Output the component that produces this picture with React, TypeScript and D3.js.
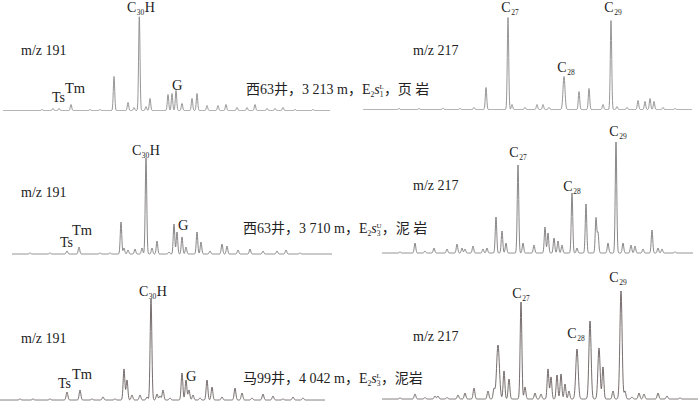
import { useEffect, useRef } from "react";
import * as d3 from "d3";

// peak = [retention (scan units), abundance, width?]
type Peak = [number, number, number?];

// 西63井 3 213 m
const x63a_m191: Peak[] = [
  [42, 1], [53, 2], [59, 2], [71, 6], [90, 1], [100, 1], [114, 34], [128, 8], [134, 3],
  [139.3, 94], [146, 4], [150, 12], [168, 16], [172, 17], [176, 20], [182, 7], [192, 12],
  [197, 17], [207, 5], [218, 5], [226, 6], [237, 3], [247, 3], [255, 6], [267, 2],
  [275, 2], [283, 3], [295, 1], [313, 1],
];
const x63a_m217: Peak[] = [
  [49, 1], [69, 1], [93, 1.5], [110, 1], [124, 2], [136, 22], [158, 92], [162, 5],
  [175, 2], [187, 5], [193, 5], [199, 2], [214, 33, 1], [229, 18], [239, 21], [253, 5],
  [261, 89], [267, 3], [277, 2], [288, 9], [295, 8], [300, 11], [304, 8], [313, 2], [325, 1],
];

// 西63井 3 710 m
const x63b_m191: Peak[] = [
  [30, 1], [50, 1], [67, 3], [79, 7], [100, 1], [110, 1], [121, 32], [124, 6], [128, 4],
  [135, 5], [142, 6], [146, 96], [152, 6], [157, 13], [169, 2], [174, 30], [177, 22],
  [182, 17], [186, 7], [197, 22], [201, 12], [210, 3], [222, 10], [227, 8], [238, 4],
  [250, 5], [263, 3], [277, 3], [286, 4], [300, 1],
];
const x63b_m217: Peak[] = [
  [50, 1], [65, 10], [75, 2], [84, 5], [97, 4], [107, 9], [112, 5], [115, 4], [123, 7],
  [133, 4], [137, 5], [146, 36], [152, 22], [156, 10], [168, 88], [173, 10], [184, 8],
  [195, 26], [198, 20], [204, 15], [208, 12], [212, 8], [222, 60], [227, 5], [236, 49],
  [246, 35], [248, 20], [258, 10], [266, 111], [273, 10], [281, 8], [285, 7], [293, 4],
  [302, 23], [308, 5], [312, 4], [325, 1],
];

// 马99井 4 042 m
const m99_m191: Peak[] = [
  [20, 1], [33, 1], [50, 1], [67, 8], [80, 10], [92, 1], [103, 3], [115, 1], [124, 31],
  [127, 20], [132, 5], [140, 5], [147, 3], [151, 101], [157, 6], [160, 4], [163, 10],
  [170, 2], [182, 27], [186, 20], [189, 10], [193, 5], [200, 2], [207, 20], [212, 13],
  [222, 3], [235, 12], [242, 7], [252, 2], [263, 6], [273, 4], [283, 1], [293, 3], [303, 2],
];
const m99_m217: Peak[] = [
  [50, 1], [65, 5], [75, 1.5], [85, 3], [88, 3], [97, 1.5], [108, 4], [115, 6], [124, 11],
  [138, 8], [144, 10], [148, 54, 1.4], [154, 28], [159, 20], [171, 97], [175, 12],
  [185, 6], [191, 5], [198, 30], [201, 22], [207, 24], [211, 25], [215, 15], [219, 8],
  [227, 50, 1.2], [240, 78, 1.1], [249, 51, 1.1], [253, 32], [263, 8], [271, 108, 1.1],
  [275, 8], [282, 2], [289, 6], [294, 5], [308, 6], [317, 3], [330, 1],
];

const sampleLabels = [
  { well: "西63井，3 213 m，E", sub: "1", sup: "L", rock: "，页 岩" },
  { well: "西63井，3 710 m，E", sub: "3", sup: "U", rock: "，泥 岩" },
  { well: "马99井，4 042 m，E", sub: "3", sup: "L", rock: "，泥岩" },
];

const serif = "'Liberation Serif', 'Times New Roman', 'Noto Sans CJK SC', serif";

export default function App() {
  const svgRef = useRef<SVGSVGElement | null>(null);

  useEffect(() => {
    if (!svgRef.current) return;
    const W = 700;
    const H = 402;
    const svg = d3.select(svgRef.current);
    svg.selectAll("*").remove();
    svg.attr("width", W).attr("height", H).attr("viewBox", [0, 0, W, H]);

    svg.append("rect").attr("width", W).attr("height", H).attr("fill", "#fff");

    // one row per sample: left m/z 191, right m/z 217
    const rows = [
      { left: x63a_m191, right: x63a_m217, baseL: 110.5, baseR: 109.5, domL: [3, 330], domR: [13, 342], sigma: 0.7, stroke: "#8a8a8a" },
      { left: x63b_m191, right: x63b_m217, baseL: 254, baseR: 253, domL: [12, 332], domR: [32, 343], sigma: 0.75, stroke: "#7c7878" },
      { left: m99_m191, right: m99_m217, baseL: 400, baseR: 399, domL: [0, 325], domR: [32, 348], sigma: 0.85, stroke: "#665c5c" },
    ];

    const drawTrace = (peaks: Peak[], originX: number, base: number, dom: number[], sigma: number, stroke: string) => {
      const x = d3.scaleLinear().domain([0, 350]).range([originX, originX + 350]);
      const y = d3.scaleLinear().domain([0, 100]).range([base, base - 100]);
      const pts: [number, number][] = d3.range(dom[0], dom[1] + 0.01, 0.25).map((t) => {
        let v = 0;
        for (const [p, h, w] of peaks) {
          const s = w ?? sigma;
          const d = t - p;
          if (Math.abs(d) < 6 * s) v += h * Math.exp(-(d * d) / (2 * s * s));
        }
        return [t, v];
      });
      const line = d3.line<[number, number]>().x((d) => x(d[0])).y((d) => y(d[1]));
      svg.append("path").attr("d", line(pts)).attr("fill", "none")
        .attr("stroke", stroke).attr("stroke-width", 0.9).attr("stroke-linejoin", "round");
    };

    rows.forEach((r) => {
      drawTrace(r.left, 0, r.baseL, r.domL, r.sigma, r.stroke);
      drawTrace(r.right, 350, r.baseR, r.domR, r.sigma, r.stroke);
    });

    const txt = (x: number, y: number, s: string, size = 14, anchor = "start") =>
      svg.append("text").attr("x", x).attr("y", y).attr("font-family", serif)
        .attr("font-size", size).attr("fill", "#222").attr("text-anchor", anchor).text(s);

    // C + subscript (+ optional H)
    const chem = (cx: number, y: number, sub: string, tail = "") => {
      const t = svg.append("text").attr("x", cx).attr("y", y).attr("font-family", serif)
        .attr("font-size", 14).attr("fill", "#222").attr("text-anchor", "middle");
      t.append("tspan").text("C");
      t.append("tspan").attr("font-size", 7.5).attr("dx", 0.5).attr("dy", 2.5).text(sub);
      if (tail) t.append("tspan").attr("dx", 0.5).attr("dy", -2.5).text(tail);
    };

    const sample = (x: number, y: number, lab: typeof sampleLabels[number]) => {
      const t = svg.append("text").attr("x", x).attr("y", y).attr("font-family", serif)
        .attr("font-size", 14).attr("fill", "#222");
      t.append("tspan").text(lab.well);
      t.append("tspan").attr("font-size", 7.5).attr("dy", 2.5).text("2");
      t.append("tspan").attr("font-style", "italic").attr("dy", -2.5).text("s");
      t.append("tspan").attr("font-size", 7.5).attr("dy", 2.5).text(lab.sub);
      t.append("tspan").attr("font-size", 7).attr("dx", -3.8).attr("dy", -8).text(lab.sup);
      t.append("tspan").attr("dy", 5.5).text(lab.rock);
    };

    const mzY = [[55, 55], [197, 190], [343, 341]];
    const c30 = [[141, 12], [146, 155], [153, 296]];
    const tsTm = [[52, 102, 65, 93], [60, 247, 72, 235], [58, 388, 72, 379]];
    const gPos = [[172, 90], [178, 230], [186, 381]];
    const sPos = [[246, 94], [243, 233], [243, 383]];
    const steranes = [
      [[510, 12], [566, 72], [613, 12]],
      [[518, 157], [572, 191], [618, 136]],
      [[521, 298], [576, 338], [618, 282]],
    ];

    for (let i = 0; i < 3; i++) {
      txt(21, mzY[i][0], "m/z 191");
      txt(413, mzY[i][1], "m/z 217");
      chem(c30[i][0], c30[i][1], "30", "H");
      txt(tsTm[i][0], tsTm[i][1], "Ts", 14);
      txt(tsTm[i][2], tsTm[i][3], "Tm", 14.5);
      txt(gPos[i][0], gPos[i][1], "G", 14.5);
      sample(sPos[i][0], sPos[i][1], sampleLabels[i]);
      ["27", "28", "29"].forEach((c, j) => chem(steranes[i][j][0], steranes[i][j][1], c));
    }
  }, []);

  return (
    <svg ref={svgRef} style={{ position: "absolute", left: 0, top: 0, display: "block" }} />
  );
}
